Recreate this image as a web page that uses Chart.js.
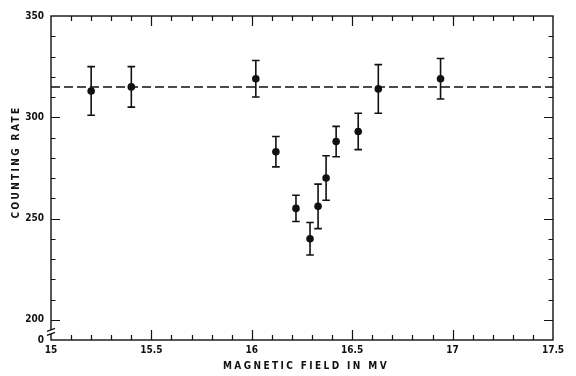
<!DOCTYPE html>
<html>
<head>
<meta charset="utf-8">
<script src="https://cdn.jsdelivr.net/npm/chart.js@4"></script>
<style>
html,body{margin:0;padding:0;background:#fff;}
#wrap{width:576px;height:376px;}
</style>
</head>
<body>
<div id="wrap"><canvas id="c" width="576" height="376"></canvas></div>
<script>
// ---- data ----
const fieldMV = [15.2, 15.4, 16.02, 16.12, 16.22, 16.29, 16.33, 16.37, 16.42, 16.53, 16.63, 16.94];
const countingRate = [313, 315, 319, 283, 255, 240, 256, 270, 288, 293, 314, 319];
const rateError = [12, 10, 9, 7.5, 6.5, 8, 11, 11, 7.5, 9, 12, 10];
const baselineRate = 315;
const xRange = [15, 17.5];
const yRange = [190, 350];
const yMajorTicks = [200, 250, 300, 350];
const yBreakLabel = '0';
const xTitle = 'MAGNETIC FIELD IN MV';
const yTitle = 'COUNTING RATE';

const INK = '#111';
const FONT = "'DejaVu Sans Condensed','DejaVu Sans',sans-serif";

const overlay = {
  id: 'overlay',
  afterDatasetsDraw(chart) {
    const {ctx, chartArea: a, scales: {x, y}} = chart;
    ctx.save();
    ctx.strokeStyle = INK;
    ctx.fillStyle = INK;
    // error bars
    ctx.lineWidth = 1.6;
    fieldMV.forEach((f, i) => {
      const px = x.getPixelForValue(f);
      const yt = y.getPixelForValue(countingRate[i] + rateError[i]);
      const yb = y.getPixelForValue(countingRate[i] - rateError[i]);
      ctx.beginPath();
      ctx.moveTo(px, yt); ctx.lineTo(px, yb);
      ctx.moveTo(px - 3.8, yt); ctx.lineTo(px + 3.8, yt);
      ctx.moveTo(px - 3.8, yb); ctx.lineTo(px + 3.8, yb);
      ctx.stroke();
    });
    // frame
    ctx.lineWidth = 1.4;
    ctx.strokeRect(a.left, a.top, a.right - a.left, a.bottom - a.top);
    // inward ticks
    ctx.lineWidth = 1.2;
    ctx.beginPath();
    for (let k = 1; k < 25; k++) {
      const v = xRange[0] + k * 0.1;
      const px = Math.round(x.getPixelForValue(v)) + 0.5;
      const len = (k % 5 === 0) ? 10 : 5;
      ctx.moveTo(px, a.bottom); ctx.lineTo(px, a.bottom - len);
      ctx.moveTo(px, a.top); ctx.lineTo(px, a.top + len);
    }
    for (let v = yRange[0] + 10; v < yRange[1]; v += 10) {
      const py = Math.round(y.getPixelForValue(v)) + 0.5;
      const len = (yMajorTicks.includes(v)) ? 9 : 4.5;
      ctx.moveTo(a.left, py); ctx.lineTo(a.left + len, py);
      ctx.moveTo(a.right, py); ctx.lineTo(a.right - len, py);
    }
    ctx.stroke();
    // axis break mark (two slanted strokes across the axis)
    const by = (y.getPixelForValue(200) + a.bottom) / 2 + 2;
    ctx.fillStyle = '#fff';
    ctx.fillRect(a.left - 2, by - 2, 4, 4);
    ctx.lineWidth = 1.2;
    ctx.beginPath();
    ctx.moveTo(a.left - 4, by - 0.5); ctx.lineTo(a.left + 4, by - 3.5);
    ctx.moveTo(a.left - 4, by + 3.5); ctx.lineTo(a.left + 4, by + 0.5);
    ctx.stroke();
    ctx.fillStyle = INK;
    // titles
    ctx.font = "bold 10px " + FONT;
    ctx.letterSpacing = '2.4px';
    ctx.textAlign = 'center';
    ctx.textBaseline = 'middle';
    ctx.fillText(xTitle, (a.left + a.right) / 2 + 4, 366);
    ctx.save();
    ctx.translate(16, 162);
    ctx.rotate(-Math.PI / 2);
    ctx.fillText(yTitle, 0, 0);
    ctx.restore();
    ctx.restore();
  }
};

new Chart(document.getElementById('c'), {
  type: 'scatter',
  data: {
    datasets: [
      {
        data: [{x: xRange[0], y: baselineRate}, {x: xRange[1], y: baselineRate}],
        showLine: true,
        borderColor: INK,
        borderWidth: 1.5,
        borderDash: [9, 4],
        pointRadius: 0,
        order: 2
      },
      {
        data: fieldMV.map((f, i) => ({x: f, y: countingRate[i]})),
        backgroundColor: INK,
        borderColor: INK,
        pointRadius: 3.8,
        pointBorderWidth: 0,
        order: 1
      }
    ]
  },
  options: {
    responsive: false,
    animation: false,
    devicePixelRatio: 1,
    layout: {padding: {top: 16, right: 23, left: 0, bottom: 0}},
    plugins: {legend: {display: false}, tooltip: {enabled: false}},
    scales: {
      x: {
        type: 'linear', min: xRange[0], max: xRange[1],
        grid: {display: false, drawTicks: false},
        border: {display: false},
        ticks: {
          stepSize: 0.5, color: INK, padding: 4, maxRotation: 0,
          font: {family: FONT, size: 10, weight: 'bold'},
          callback: v => String(v)
        },
        afterFit: s => { s.height = 36; }
      },
      y: {
        type: 'linear', min: yRange[0], max: yRange[1],
        grid: {display: false, drawTicks: false},
        border: {display: false},
        ticks: {
          stepSize: 10, autoSkip: false, color: INK, padding: 7,
          font: {family: FONT, size: 10, weight: 'bold'},
          callback: v => v === yRange[0] ? yBreakLabel : (yMajorTicks.includes(v) ? String(v) : '')
        },
        afterFit: s => { s.width = 51; }
      }
    }
  },
  plugins: [overlay]
});
</script>
</body>
</html>
